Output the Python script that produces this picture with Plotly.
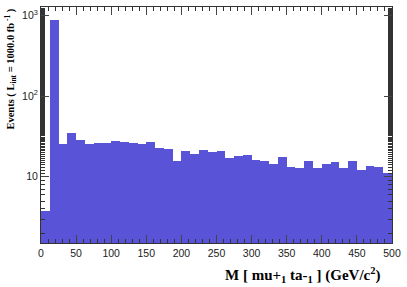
import plotly.graph_objects as go

# histogram of the invariant mass, 40 bins of 12.5 GeV between 0 and 500
bin_lo = [12.5 * i for i in range(40)]
events = [3.8, 877, 25.8, 34.9, 28.4, 25.5, 26.3, 26.3, 28.1, 26.8,
          26.3, 25.5, 26.8, 22.4, 21.8, 15.5, 20.9, 19.1, 21.4, 20.0,
          20.6, 16.9, 18.0, 18.4, 16.2, 15.5, 14.2, 17.7, 13.4, 12.9,
          15.9, 12.9, 14.4, 15.1, 12.9, 15.6, 12.0, 13.6, 13.3, 11.2]
x_ticks = [0, 50, 100, 150, 200, 250, 300, 350, 400, 450, 500]
y_ticks = [10, 100, 1000]
y_tick_text = ["10", "10<sup>2</sup>", "10<sup>3</sup>"]

centers = [lo + 6.25 for lo in bin_lo]

fig = go.Figure()
fig.add_trace(go.Bar(
    x=centers, y=events, width=12.5,
    marker=dict(color="#5953d8", line=dict(width=0)),
))

axis_font = dict(family="Liberation Sans, Arial", size=10.5, color="#222")
fig.update_layout(
    width=407, height=287,
    margin=dict(l=41, r=12, t=6, b=44),
    plot_bgcolor="white", paper_bgcolor="white",
    showlegend=False, bargap=0,
    xaxis=dict(
        range=[0, 500], tickvals=x_ticks, ticks="inside", ticklen=8,
        showline=True, linecolor="#333", linewidth=1, mirror="allticks",
        showgrid=False, zeroline=False, tickfont=axis_font,
        minor=dict(dtick=10, ticks="inside", ticklen=4, tickcolor="#333"),
    ),
    yaxis=dict(
        type="log", range=[0.18, 3.102], tickvals=y_ticks, ticktext=y_tick_text,
        ticks="inside", ticklen=8,
        showline=True, linecolor="#333", linewidth=1, mirror="allticks",
        showgrid=False, zeroline=False, tickfont=axis_font,
        minor=dict(ticks="inside", ticklen=4, tickcolor="#333", showgrid=False),
    ),
    annotations=[
        dict(text="<b>M [ mu+<sub>1</sub> ta-<sub>1</sub> ] (GeV/c<sup>2</sup>)</b>",
             xref="paper", yref="paper", x=0.975, y=-0.085,
             xanchor="right", yanchor="top", showarrow=False,
             font=dict(family="Liberation Serif, Times New Roman", size=15, color="black")),
        dict(text="<b>Events ( L<sub>int</sub> = 1000.0 fb<sup> -1</sup> )</b>",
             xref="paper", yref="paper", x=-0.088, y=1.0,
             xanchor="center", yanchor="top", textangle=-90, showarrow=False,
             font=dict(family="Liberation Serif, Times New Roman", size=10.5, color="black")),
    ],
)

fig.write_html("out.html", config={"displayModeBar": False},
               post_script="document.body.style.margin='0';")
